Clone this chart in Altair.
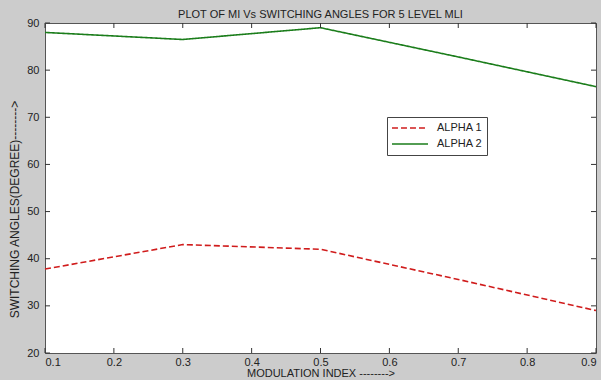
import altair as alt
import pandas as pd

mi = [0.1, 0.3, 0.5, 0.7, 0.9]
alpha1 = [37.8, 43.0, 42.0, 35.6, 29.0]
alpha2 = [88.0, 86.5, 89.0, 82.8, 76.5]
series_names = ["ALPHA 1", "ALPHA 2"]
x_ticks = [0.1, 0.2, 0.3, 0.4, 0.5, 0.6, 0.7, 0.8, 0.9]
y_ticks = [20, 30, 40, 50, 60, 70, 80, 90]

rows = []
for x, a in zip(mi, alpha1):
    rows.append({"mi": x, "angle": a, "series": series_names[0]})
for x, a in zip(mi, alpha2):
    rows.append({"mi": x, "angle": a, "series": series_names[1]})
df = pd.DataFrame(rows)

FONT = "Liberation Sans"
W, H = 551, 330

xscale = alt.Scale(domain=[0.1, 0.9], nice=False, zero=False)
yscale = alt.Scale(domain=[20, 90], nice=False, zero=False)

lines = alt.Chart(df).mark_line(strokeWidth=1.6).encode(
    x=alt.X("mi:Q", scale=xscale,
            axis=alt.Axis(values=x_ticks, format=".1f", title="MODULATION INDEX -------->",
                          tickSize=0, domain=False, grid=False, labelPadding=3,
                          labelFont=FONT, labelFontSize=11, labelColor="#222",
                          titleFont=FONT, titleFontSize=11, titleFontWeight="normal",
                          titleColor="#222", titleY=14, titleBaseline="top")),
    y=alt.Y("angle:Q", scale=yscale,
            axis=alt.Axis(values=y_ticks, title="SWITCHING ANGLES(DEGREE)-------->",
                          tickSize=0, domain=False, grid=False, labelPadding=6,
                          labelFont=FONT, labelFontSize=11, labelColor="#222",
                          titleFont=FONT, titleFontSize=12, titleFontWeight="normal",
                          titleColor="#222", titlePadding=5, titleY=186)),
    color=alt.Color("series:N",
                    scale=alt.Scale(domain=series_names, range=["#d01c1c", "#1b7d1b"]),
                    legend=alt.Legend(title=None, orient="none", legendX=342, legendY=94,
                                      fillColor="white", strokeColor="#444", padding=4,
                                      symbolType="stroke", symbolSize=1300, symbolStrokeWidth=1.6,
                                      clipHeight=14,
                                      labelFont=FONT, labelFontSize=11, labelColor="#222",
                                      rowPadding=2, labelOffset=8)),
    strokeDash=alt.StrokeDash("series:N",
                              scale=alt.Scale(domain=series_names, range=[[6, 3], [1, 0]]),
                              legend=None),
)

xt = pd.DataFrame({"v": x_ticks})
yt = pd.DataFrame({"v": y_ticks})

tick_style = dict(color="#333", strokeWidth=1)
xb = alt.Chart(xt).mark_rule(**tick_style).encode(
    x=alt.X("v:Q", scale=xscale), y=alt.value(H), y2=alt.value(H - 5))
xtp = alt.Chart(xt).mark_rule(**tick_style).encode(
    x=alt.X("v:Q", scale=xscale), y=alt.value(0), y2=alt.value(5))
yl = alt.Chart(yt).mark_rule(**tick_style).encode(
    y=alt.Y("v:Q", scale=yscale), x=alt.value(0), x2=alt.value(5))
yr = alt.Chart(yt).mark_rule(**tick_style).encode(
    y=alt.Y("v:Q", scale=yscale), x=alt.value(W), x2=alt.value(W - 5))

chart = alt.layer(lines, xb, xtp, yl, yr).properties(
    width=W, height=H,
    title=alt.TitleParams("PLOT OF MI Vs SWITCHING ANGLES FOR 5 LEVEL MLI",
                          font=FONT, fontSize=11, fontWeight="normal", color="#222",
                          anchor="middle", offset=-3),
    background="#cccccc",
    padding={"left": 45, "top": 23, "right": 5, "bottom": 27},
    autosize=alt.AutoSizeParams(type="none"),
).configure_view(fill="white", stroke="#555", strokeWidth=1)

chart.save("out.html", embed_options={"renderer": "svg", "actions": False})
